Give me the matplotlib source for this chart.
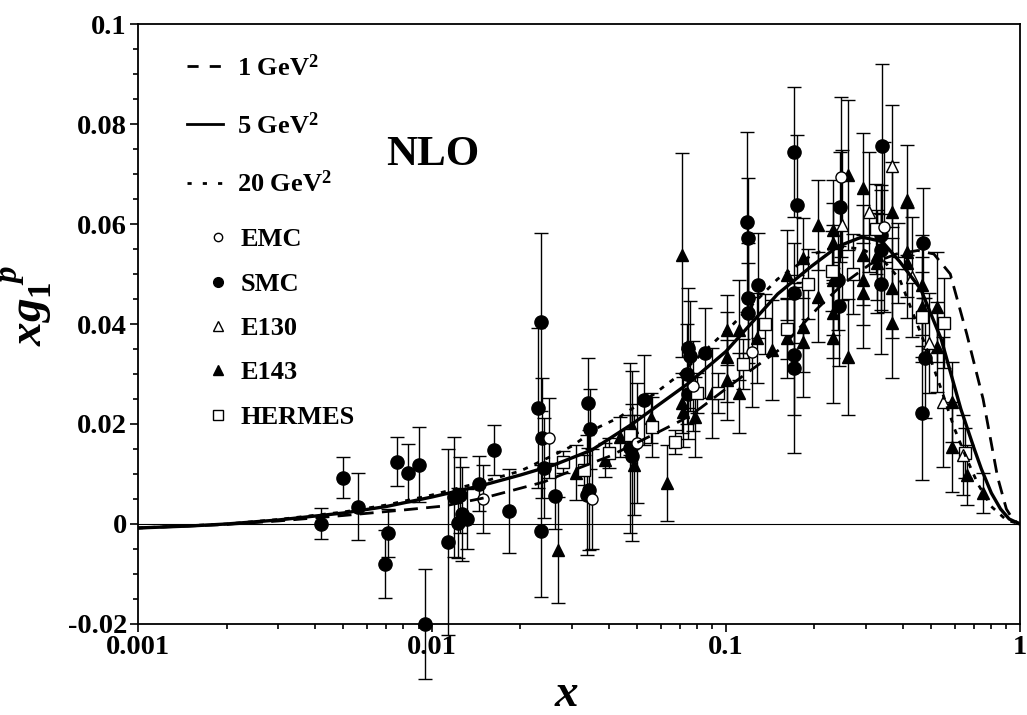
import matplotlib
matplotlib.use('Agg')
import matplotlib.pyplot as plt
from matplotlib.lines import Line2D
from matplotlib.ticker import FixedLocator, FixedFormatter, LogLocator, NullFormatter, MultipleLocator

plt.rcParams['font.family'] = ['Liberation Serif', 'DejaVu Serif']
plt.rcParams['font.weight'] = 'bold'
plt.rcParams['mathtext.fontset'] = 'custom'
plt.rcParams['mathtext.rm'] = 'Liberation Serif:bold'
plt.rcParams['mathtext.it'] = 'Liberation Serif:italic:bold'
plt.rcParams['mathtext.bf'] = 'Liberation Serif:bold'

# NLO curves for xg1^p at three Q^2 values
q1_x = [0.001, 0.002, 0.003, 0.005, 0.008, 0.011, 0.015, 0.019, 0.024, 0.028, 0.04, 0.059,
        0.071, 0.082, 0.113, 0.153, 0.204, 0.25, 0.31, 0.38, 0.45, 0.51, 0.58, 0.66, 0.75,
        0.84, 0.9, 0.95, 1.0]
q1_y = [-0.0008, -0.0001, 0.0006, 0.0017, 0.0028, 0.0036, 0.0052, 0.0068, 0.0084, 0.0100,
        0.0135, 0.0184, 0.0208, 0.0232, 0.0294, 0.0350, 0.0430, 0.0480, 0.0520, 0.0540,
        0.0547, 0.0540, 0.0500, 0.0380, 0.0250, 0.0094, 0.0030, 0.0008, 0.0]

q5_x = [0.001, 0.0015, 0.002, 0.003, 0.005, 0.007, 0.01, 0.015, 0.02, 0.026, 0.035, 0.048,
        0.074, 0.1, 0.15, 0.194, 0.24, 0.29, 0.34, 0.39, 0.46, 0.54, 0.63, 0.70, 0.74, 0.80,
        0.86, 0.92, 1.0]
q5_y = [-0.0008, -0.0004, 0.0, 0.0008, 0.0022, 0.0035, 0.0054, 0.0078, 0.0098, 0.0118,
        0.0148, 0.0200, 0.0280, 0.0345, 0.0460, 0.0514, 0.0555, 0.0574, 0.0565, 0.0525,
        0.0470, 0.0370, 0.0230, 0.0150, 0.0110, 0.0062, 0.0030, 0.0010, 0.0]

q20_x = [0.001, 0.002, 0.003, 0.005, 0.007, 0.01, 0.015, 0.02, 0.026, 0.03, 0.037, 0.043,
         0.057, 0.07, 0.106, 0.15, 0.198, 0.24, 0.29, 0.34, 0.39, 0.434, 0.49, 0.54, 0.60,
         0.66, 0.72, 0.8, 0.9, 1.0]
q20_y = [-0.0008, 0.0, 0.0009, 0.0024, 0.0038, 0.0058, 0.0085, 0.0106, 0.0138, 0.0156,
         0.0194, 0.0212, 0.0260, 0.0300, 0.0400, 0.0490, 0.0540, 0.0555, 0.0550, 0.0530,
         0.0490, 0.0420, 0.0340, 0.0270, 0.0190, 0.0130, 0.0080, 0.0035, 0.0008, 0.0]

# data sets: x, xg1, error
emc_x = [0.0149, 0.0251, 0.035, 0.050, 0.077, 0.123, 0.246, 0.344]
emc_y = [0.0050, 0.0172, 0.0050, 0.0162, 0.0276, 0.0344, 0.0694, 0.0594]
emc_e = [0.0068, 0.0080, 0.0100, 0.0120, 0.0090, 0.0110, 0.0160, 0.0170]

smc_x = [0.0042, 0.0050, 0.0056, 0.0069, 0.0071, 0.0076, 0.0083, 0.0090, 0.0095, 0.0113,
         0.0119, 0.0125, 0.0127, 0.0123, 0.0132, 0.0145, 0.0163, 0.0183, 0.0235, 0.0230,
         0.0237, 0.0240, 0.0235, 0.0262, 0.0339, 0.0345, 0.0342, 0.0338, 0.0473, 0.0480,
         0.0525, 0.0745, 0.0755, 0.0740, 0.0745, 0.0850, 0.118, 0.119, 0.119, 0.119,
         0.129, 0.171, 0.175, 0.171, 0.171, 0.171, 0.245, 0.240, 0.243, 0.341,
         0.336, 0.338, 0.338, 0.468, 0.475, 0.466]
smc_y = [0.0000, 0.0092, 0.0034, -0.0080, -0.0018, 0.0124, 0.0102, 0.0118, -0.0200, -0.0036,
         0.0054, 0.0058, 0.0020, 0.0002, 0.0010, 0.0080, 0.0148, 0.0026, 0.0404, 0.0232,
         0.0172, 0.0112, -0.0014, 0.0056, 0.0242, 0.0190, 0.0068, 0.0058, 0.0152, 0.0136,
         0.0248, 0.0352, 0.0336, 0.0300, 0.0260, 0.0342, 0.0604, 0.0572, 0.0452, 0.0422,
         0.0478, 0.0744, 0.0638, 0.0462, 0.0338, 0.0312, 0.0634, 0.0488, 0.0436, 0.0756,
         0.0578, 0.0548, 0.0480, 0.0562, 0.0332, 0.0222]
smc_e = [0.0031, 0.0041, 0.0067, 0.0068, 0.0048, 0.0049, 0.0058, 0.0075, 0.0110, 0.0186,
         0.0120, 0.0076, 0.0094, 0.0070, 0.0060, 0.0055, 0.0050, 0.0084, 0.0178, 0.0160,
         0.0120, 0.0100, 0.0132, 0.0066, 0.0090, 0.0080, 0.0120, 0.0120, 0.0170, 0.0170,
         0.0090, 0.0120, 0.0110, 0.0100, 0.0090, 0.0090, 0.0180, 0.0120, 0.0110, 0.0100,
         0.0105, 0.0130, 0.0140, 0.0100, 0.0120, 0.0170, 0.0110, 0.0100, 0.0120, 0.0165,
         0.0100, 0.0120, 0.0140, 0.0110, 0.0120, 0.0134]

e130_x = [0.248, 0.307, 0.368, 0.430, 0.490, 0.550, 0.640]
e130_y = [0.0598, 0.0624, 0.0716, 0.0494, 0.0362, 0.0244, 0.0138]
e130_e = [0.0150, 0.0120, 0.0122, 0.0120, 0.0100, 0.0130, 0.0080]

e143_x = [0.0268, 0.0310, 0.0389, 0.0437, 0.0479, 0.0485, 0.0557, 0.0630, 0.0711, 0.0710,
          0.0715, 0.0785, 0.0900, 0.101, 0.101, 0.101, 0.111, 0.111, 0.128, 0.144,
          0.162, 0.162, 0.183, 0.183, 0.183, 0.205, 0.205, 0.231, 0.231, 0.231,
          0.231, 0.231, 0.260, 0.260, 0.292, 0.292, 0.292, 0.292, 0.327, 0.327,
          0.368, 0.368, 0.368, 0.414, 0.414, 0.414, 0.465, 0.465, 0.523, 0.523,
          0.590, 0.590, 0.660, 0.750]
e143_y = [-0.0052, 0.0102, 0.0128, 0.0174, 0.0194, 0.0118, 0.0212, 0.0082, 0.0538, 0.0242,
          0.0224, 0.0214, 0.0262, 0.0388, 0.0334, 0.0288, 0.0388, 0.0262, 0.0372, 0.0348,
          0.0498, 0.0372, 0.0532, 0.0394, 0.0364, 0.0598, 0.0454, 0.0588, 0.0562, 0.0488,
          0.0422, 0.0372, 0.0698, 0.0334, 0.0672, 0.0538, 0.0488, 0.0462, 0.0538, 0.0522,
          0.0624, 0.0472, 0.0402, 0.0648, 0.0544, 0.0522, 0.0478, 0.0434, 0.0434, 0.0354,
          0.0244, 0.0154, 0.0098, 0.0062]
e143_e = [0.0106, 0.0055, 0.0034, 0.0040, 0.0045, 0.0100, 0.0050, 0.0076, 0.0204, 0.0060,
          0.0070, 0.0080, 0.0090, 0.0070, 0.0090, 0.0080, 0.0100, 0.0080, 0.0090, 0.0100,
          0.0090, 0.0080, 0.0080, 0.0090, 0.0110, 0.0090, 0.0090, 0.0100, 0.0080, 0.0110,
          0.0090, 0.0130, 0.0150, 0.0116, 0.0110, 0.0100, 0.0090, 0.0110, 0.0090, 0.0100,
          0.0100, 0.0100, 0.0110, 0.0110, 0.0090, 0.0110, 0.0100, 0.0100, 0.0110, 0.0090,
          0.0080, 0.0090, 0.0060, 0.0040]

hermes_x = [0.028, 0.033, 0.040, 0.047, 0.056, 0.067, 0.080, 0.094, 0.114, 0.136, 0.162,
            0.191, 0.229, 0.271, 0.324, 0.386, 0.464, 0.551, 0.650]
hermes_y = [0.0124, 0.0108, 0.0142, 0.0178, 0.0194, 0.0164, 0.0262, 0.0262, 0.0320, 0.0400,
            0.0390, 0.0480, 0.0506, 0.0500, 0.0590, 0.0522, 0.0414, 0.0402, 0.0142]
hermes_e = [0.0022, 0.0030, 0.0030, 0.0040, 0.0060, 0.0024, 0.0040, 0.0040, 0.0050, 0.0060,
            0.0060, 0.0070, 0.0080, 0.0080, 0.0090, 0.0080, 0.0090, 0.0090, 0.0050]

curve_labels = ['1 GeV$^2$', '5 GeV$^2$', '20 GeV$^2$']
data_labels = ['EMC', 'SMC', 'E130', 'E143', 'HERMES']

fig = plt.figure(figsize=(10.27, 7.15), dpi=100)
ax = fig.add_axes([0.1344, 0.1273, 0.8586, 0.8391])
ax.set_xscale('log')
ax.set_xlim(0.001, 1)
ax.set_ylim(-0.02, 0.1)

ax.axhline(0, color='k', lw=0.8, zorder=1)

ax.plot(q1_x, q1_y, color='k', lw=2, dashes=(5, 3), zorder=4)
ax.plot(q5_x, q5_y, color='k', lw=2.4, zorder=4)
ax.plot(q20_x, q20_y, color='k', lw=2, dashes=(1.8, 2.6), zorder=4)


def draw_set(x, y, e, marker, filled, ms):
    eb = ax.errorbar(x, y, yerr=e, fmt=marker, ms=ms, mfc='k' if filled else 'white',
                     mec='k', mew=1, ecolor='k', elinewidth=1, capsize=5, capthick=1, zorder=3)
    eb.lines[0].set_clip_on(False)
    for a in list(eb.lines[1]) + list(eb.lines[2]):
        a.set_clip_on(False)


draw_set(smc_x, smc_y, smc_e, 'o', True, 9.5)
draw_set(e143_x, e143_y, e143_e, '^', True, 9)
draw_set(hermes_x, hermes_y, hermes_e, 's', False, 8)
draw_set(emc_x, emc_y, emc_e, 'o', False, 8)
draw_set(e130_x, e130_y, e130_e, '^', False, 9)

# ticks
ax.yaxis.set_major_locator(FixedLocator([-0.02, 0, 0.02, 0.04, 0.06, 0.08, 0.1]))
ax.yaxis.set_major_formatter(FixedFormatter(['-0.02', '0', '0.02', '0.04', '0.06', '0.08', '0.1']))
ax.yaxis.set_minor_locator(MultipleLocator(0.005))
ax.xaxis.set_major_locator(FixedLocator([0.001, 0.01, 0.1, 1]))
ax.xaxis.set_major_formatter(FixedFormatter(['0.001', '0.01', '0.1', '1']))
ax.xaxis.set_minor_locator(LogLocator(base=10, subs=range(2, 10)))
ax.xaxis.set_minor_formatter(NullFormatter())
ax.tick_params(which='both', direction='out', top=False, right=False, width=1.2,
               labelsize=20.5)
ax.tick_params(which='major', length=6, pad=2)
ax.tick_params(which='minor', length=3.5)
for lab in ax.get_xticklabels() + ax.get_yticklabels():
    lab.set_fontweight('bold')
for s in ax.spines.values():
    s.set_linewidth(1.3)

ax.set_xlabel('$x$', fontsize=34, va='center')
ax.xaxis.set_label_coords(0.486, -0.118)
ax.set_ylabel('$xg_{\\mathit{1}}^{\\;\\;p}$', fontsize=34)
ax.yaxis.set_label_coords(-0.094, 0.532)

ax.text(0.334, 0.782, 'NLO', transform=ax.transAxes, fontsize=31, fontweight='bold',
        ha='center', va='center')

line_handles = [Line2D([], [], color='k', lw=2, dashes=(4, 4)),
                Line2D([], [], color='k', lw=2),
                Line2D([], [], color='k', lw=2, dashes=(1.5, 4))]
leg1 = ax.legend(line_handles, curve_labels, loc='upper left', bbox_to_anchor=(0.055, 0.95),
                 frameon=False, fontsize=19, handlelength=1.4, handletextpad=0.5,
                 labelspacing=1.2, borderpad=0, borderaxespad=0)
ax.add_artist(leg1)

mark_handles = [Line2D([], [], ls='none', marker='o', ms=6, mfc='white', mec='k'),
                Line2D([], [], ls='none', marker='o', ms=7, mfc='k', mec='k'),
                Line2D([], [], ls='none', marker='^', ms=6.5, mfc='white', mec='k'),
                Line2D([], [], ls='none', marker='^', ms=6.5, mfc='k', mec='k'),
                Line2D([], [], ls='none', marker='s', ms=6.5, mfc='white', mec='k')]
ax.legend(mark_handles, data_labels, loc='upper left', bbox_to_anchor=(0.076, 0.66),
          frameon=False, fontsize=19, handlelength=1.0, handletextpad=0.35,
          labelspacing=0.79, borderpad=0, borderaxespad=0)

fig.savefig('out.png', dpi=100)
